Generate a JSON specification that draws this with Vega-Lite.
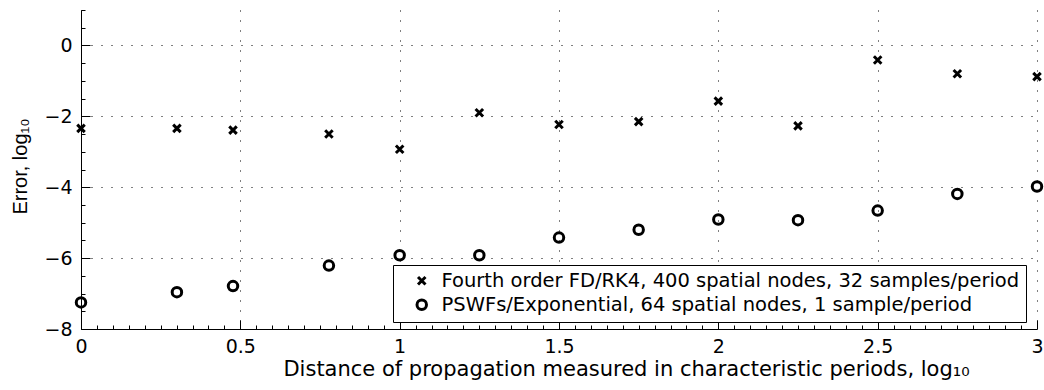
{
  "$schema": "https://vega.github.io/schema/vega-lite/v6.json",
  "width": 956,
  "height": 319,
  "autosize": "none",
  "padding": {"left": 81, "top": 10, "right": 7, "bottom": 61},
  "background": "white",
  "config": {
    "view": {"stroke": null},
    "font": "DejaVu Sans",
    "axis": {
      "domainColor": "#000000",
      "domainWidth": 1,
      "tickColor": "#000000",
      "tickWidth": 1,
      "labelColor": "#000000",
      "labelFont": "DejaVu Sans",
      "labelFontSize": 19,
      "labelFlush": false,
      "labelOverlap": false,
      "titleFont": "DejaVu Sans",
      "titleFontSize": 21,
      "titleFontWeight": "normal",
      "titleColor": "#000000",
      "gridColor": "#000000",
      "gridDash": [1, 9],
      "gridWidth": 1
    }
  },
  "data": {
    "values": [
      {"d": 0, "err": -2.34, "method": "Fourth order FD/RK4, 400 spatial nodes, 32 samples/period"},
      {"d": 0.301, "err": -2.34, "method": "Fourth order FD/RK4, 400 spatial nodes, 32 samples/period"},
      {"d": 0.477, "err": -2.39, "method": "Fourth order FD/RK4, 400 spatial nodes, 32 samples/period"},
      {"d": 0.778, "err": -2.5, "method": "Fourth order FD/RK4, 400 spatial nodes, 32 samples/period"},
      {"d": 1, "err": -2.93, "method": "Fourth order FD/RK4, 400 spatial nodes, 32 samples/period"},
      {"d": 1.25, "err": -1.9, "method": "Fourth order FD/RK4, 400 spatial nodes, 32 samples/period"},
      {"d": 1.5, "err": -2.23, "method": "Fourth order FD/RK4, 400 spatial nodes, 32 samples/period"},
      {"d": 1.75, "err": -2.15, "method": "Fourth order FD/RK4, 400 spatial nodes, 32 samples/period"},
      {"d": 2, "err": -1.57, "method": "Fourth order FD/RK4, 400 spatial nodes, 32 samples/period"},
      {"d": 2.25, "err": -2.27, "method": "Fourth order FD/RK4, 400 spatial nodes, 32 samples/period"},
      {"d": 2.5, "err": -0.41, "method": "Fourth order FD/RK4, 400 spatial nodes, 32 samples/period"},
      {"d": 2.75, "err": -0.8, "method": "Fourth order FD/RK4, 400 spatial nodes, 32 samples/period"},
      {"d": 3, "err": -0.88, "method": "Fourth order FD/RK4, 400 spatial nodes, 32 samples/period"},
      {"d": 0, "err": -7.25, "method": "PSWFs/Exponential, 64 spatial nodes, 1 sample/period"},
      {"d": 0.301, "err": -6.96, "method": "PSWFs/Exponential, 64 spatial nodes, 1 sample/period"},
      {"d": 0.477, "err": -6.79, "method": "PSWFs/Exponential, 64 spatial nodes, 1 sample/period"},
      {"d": 0.778, "err": -6.21, "method": "PSWFs/Exponential, 64 spatial nodes, 1 sample/period"},
      {"d": 1, "err": -5.92, "method": "PSWFs/Exponential, 64 spatial nodes, 1 sample/period"},
      {"d": 1.25, "err": -5.92, "method": "PSWFs/Exponential, 64 spatial nodes, 1 sample/period"},
      {"d": 1.5, "err": -5.42, "method": "PSWFs/Exponential, 64 spatial nodes, 1 sample/period"},
      {"d": 1.75, "err": -5.2, "method": "PSWFs/Exponential, 64 spatial nodes, 1 sample/period"},
      {"d": 2, "err": -4.91, "method": "PSWFs/Exponential, 64 spatial nodes, 1 sample/period"},
      {"d": 2.25, "err": -4.93, "method": "PSWFs/Exponential, 64 spatial nodes, 1 sample/period"},
      {"d": 2.5, "err": -4.66, "method": "PSWFs/Exponential, 64 spatial nodes, 1 sample/period"},
      {"d": 2.75, "err": -4.19, "method": "PSWFs/Exponential, 64 spatial nodes, 1 sample/period"},
      {"d": 3, "err": -3.98, "method": "PSWFs/Exponential, 64 spatial nodes, 1 sample/period"}
    ]
  },
  "mark": {"type": "point", "filled": false, "color": "#000000", "strokeWidth": 3, "opacity": 1, "clip": false},
  "encoding": {
    "x": {
      "field": "d",
      "type": "quantitative",
      "scale": {"domain": [0, 3], "nice": false, "zero": false},
      "axis": {
        "title": "Distance of propagation measured in characteristic periods, log₁₀",
        "values": [0, 0.05, 0.1, 0.15, 0.2, 0.25, 0.3, 0.35, 0.4, 0.45, 0.5, 0.55, 0.6, 0.65, 0.7, 0.75, 0.8, 0.85, 0.9, 0.95, 1, 1.05, 1.1, 1.15, 1.2, 1.25, 1.3, 1.35, 1.4, 1.45, 1.5, 1.55, 1.6, 1.65, 1.7, 1.75, 1.8, 1.85, 1.9, 1.95, 2, 2.05, 2.1, 2.15, 2.2, 2.25, 2.3, 2.35, 2.4, 2.45, 2.5, 2.55, 2.6, 2.65, 2.7, 2.75, 2.8, 2.85, 2.9, 2.95, 3],
        "format": "~g",
        "labelExpr": "abs(datum.value * 2 - round(datum.value * 2)) < 0.000001 ? datum.label : ''",
        "grid": true,
        "gridOpacity": {"condition": {"test": "abs(datum.value * 2 - round(datum.value * 2)) < 0.000001", "value": 1}, "value": 0},
        "tickSize": {"condition": {"test": "abs(datum.value * 2 - round(datum.value * 2)) < 0.000001", "value": -9}, "value": -4},
        "labelPadding": 17,
        "titleX": 545,
        "titleY": 46,
        "titleAlign": "center",
        "titleBaseline": "alphabetic"
      }
    },
    "y": {
      "field": "err",
      "type": "quantitative",
      "scale": {"domain": [-8, 1], "nice": false, "zero": false},
      "axis": {
        "title": "Error, log₁₀",
        "titleFont": "Liberation Sans",
        "titleFontSize": 20,
        "values": [-8, -7.5, -7, -6.5, -6, -5.5, -5, -4.5, -4, -3.5, -3, -2.5, -2, -1.5, -1, -0.5, 0, 0.5, 1],
        "format": "~g",
        "labelExpr": "abs(datum.value / 2 - round(datum.value / 2)) < 0.000001 && datum.value < 0.5 ? datum.label : ''",
        "grid": true,
        "gridOpacity": {"condition": {"test": "abs(datum.value / 2 - round(datum.value / 2)) < 0.000001 && datum.value < 0.5", "value": 1}, "value": 0},
        "tickSize": {"condition": {"test": "abs(datum.value / 2 - round(datum.value / 2)) < 0.000001 && datum.value < 0.5", "value": -9}, "value": -4},
        "labelPadding": 18,
        "titleX": -55,
        "titleY": 156,
        "titleAngle": -90,
        "titleAlign": "center",
        "titleBaseline": "alphabetic"
      }
    },
    "shape": {
      "field": "method",
      "type": "nominal",
      "scale": {
        "domain": ["Fourth order FD/RK4, 400 spatial nodes, 32 samples/period", "PSWFs/Exponential, 64 spatial nodes, 1 sample/period"],
        "range": ["M-1,-1L1,1M-1,1L1,-1", "circle"]
      },
      "legend": {
        "title": null,
        "orient": "none",
        "legendX": 312,
        "legendY": 255,
        "strokeColor": "#000000",
        "fillColor": "#ffffff",
        "padding": 6,
        "cornerRadius": 0,
        "labelFont": "DejaVu Sans",
        "labelFontSize": 19.5,
        "labelColor": "#000000",
        "labelLimit": 900,
        "labelOffset": 10,
        "symbolOffset": 13,
        "symbolStrokeColor": "#000000",
        "symbolStrokeWidth": 3,
        "symbolFillColor": "transparent",
        "rowPadding": 3
      }
    },
    "size": {
      "field": "method",
      "type": "nominal",
      "scale": {
        "domain": ["Fourth order FD/RK4, 400 spatial nodes, 32 samples/period", "PSWFs/Exponential, 64 spatial nodes, 1 sample/period"],
        "range": [56, 90]
      },
      "legend": {
        "title": null,
        "orient": "none",
        "legendX": 312,
        "legendY": 255
      }
    }
  }
}
